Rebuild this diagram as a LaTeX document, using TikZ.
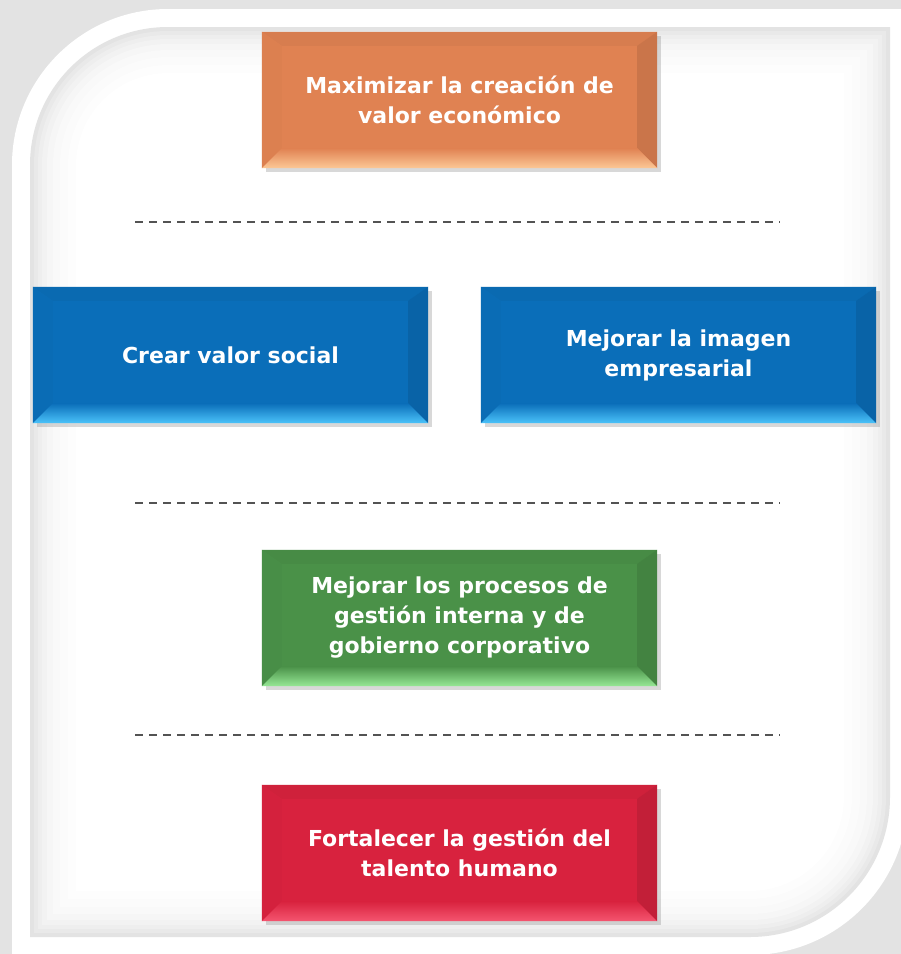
\documentclass[tikz,border=0pt]{standalone}
\usepackage{fontspec}
\setmainfont{DejaVu Sans}
\usetikzlibrary{shadows,calc}
\definecolor{orangeM}{RGB}{224,130,82}
\definecolor{orangeL}{RGB}{252,200,150}
\definecolor{blueM}{RGB}{10,110,185}
\definecolor{blueL}{RGB}{75,195,250}
\definecolor{greenM}{RGB}{74,145,72}
\definecolor{greenL}{RGB}{150,232,150}
\definecolor{redM}{RGB}{216,34,62}
\definecolor{redL}{RGB}{245,85,112}
\tikzset{
  objbox/.style={minimum width=395pt,minimum height=136pt,inner sep=0pt,
    align=center,text=white,font=\bfseries\fontsize{22}{30}\selectfont,
    drop shadow={shadow xshift=4pt,shadow yshift=-4pt,opacity=0.3}},
  sepline/.style={line width=2pt,gray!65!black,dash pattern=on 8pt off 6pt}
}
\begin{document}
\begin{tikzpicture}[x=1pt,y=-1pt]
\useasboundingbox (0,0) rectangle (901,954);
\fill[gray!22] (0,0) rectangle (901,954);
% frame
\fill[white] (12,955) -- (12,165) arc (180:270:156) -- (908,9) -- (908,797) arc (0:90:158) -- cycle;
\foreach \d/\g in {0/22,4/17,8/13,12/10,17/7,23/5,30/3,38/1.5,46/0}
  \fill[gray!\g] (30+\d,937-\d) -- (30+\d,165) arc (180:270:138-\d) -- (890-\d,27+\d) -- (890-\d,797) arc (0:90:140-\d) -- cycle;
% objectives
\node[objbox,fill=orangeM] (econ) at (459.5,100) {Maximizar la creación de\\valor económico};
\node[objbox,fill=blueM] (social) at (230.5,355) {Crear valor social};
\node[objbox,fill=blueM] (imagen) at (678.5,355) {Mejorar la imagen\\empresarial};
\node[objbox,fill=greenM] (gestion) at (459.5,618) {Mejorar los procesos de\\gestión interna y de\\gobierno corporativo};
\node[objbox,fill=redM] (talento) at (459.5,853) {Fortalecer la gestión del\\talento humano};
\foreach \n/\c/\l in {econ/orangeM/orangeL,social/blueM/blueL,imagen/blueM/blueL,gestion/greenM/greenL,talento/redM/redL}{
  \fill[\c!96!black] (\n.north west) -- (\n.north east) -- ++(-20,14) -- ($(\n.north west)+(20,14)$) -- cycle;
  \fill[\c!90!black] (\n.north east) -- (\n.south east) -- ++(-20,-20) -- ($(\n.north east)+(-20,14)$) -- cycle;
  \fill[\c!98!black] (\n.north west) -- (\n.south west) -- ++(20,-20) -- ($(\n.north west)+(20,14)$) -- cycle;
  \shade[top color=\c,bottom color=\l] (\n.south west) -- (\n.south east) -- ++(-20,-20) -- ($(\n.south west)+(20,-20)$) -- cycle;
}
% separators
\draw[sepline] (135,222) -- (780,222);
\draw[sepline] (135,503) -- (780,503);
\draw[sepline] (135,735) -- (780,735);
\end{tikzpicture}
\end{document}
